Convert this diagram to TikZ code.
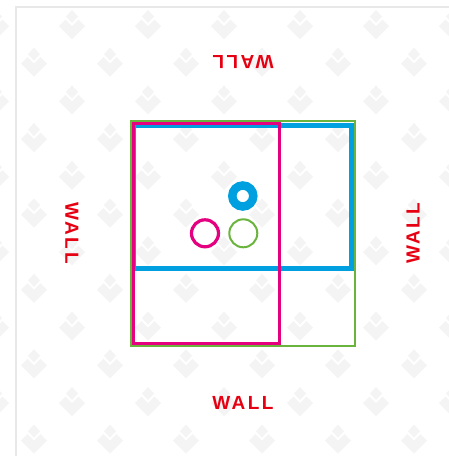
\documentclass[tikz,border=0pt]{standalone}
\usepackage{fontspec}
\newfontfamily\wallfont[LetterSpace=13]{Liberation Sans}
\usetikzlibrary{positioning}
\definecolor{PlanBlue}{RGB}{0,160,224}
\definecolor{PlanPink}{RGB}{228,0,127}
\definecolor{PlanGreen}{RGB}{106,180,62}
\definecolor{WallRed}{RGB}{230,0,18}
\definecolor{MarkGray}{RGB}{244,244,244}
\definecolor{FrameGray}{RGB}{232,232,232}
\tikzset{
    wall/.style={text=WallRed, inner sep=0pt, font=\wallfont\bfseries\fontsize{19}{21}\selectfont},
    logo/.pic={
        \fill [MarkGray] (0,-15) -- (6,-8.5) -- (0,-2) -- (-6,-8.5) -- cycle;
        \fill [MarkGray] (-13,1) -- (-6.5,-5.5) -- (0,1) -- (6.5,-5.5) -- (13,1) -- (0,14) -- cycle;
    }
}

\begin{document}
\begin{tikzpicture}[x=1pt, y=-1pt]
    \fill [white] (0,0) rectangle (449,456);
    \useasboundingbox (0,0) rectangle (449,456);
    % watermark
    \foreach \row in {0,...,11} {
        \pgfmathsetmacro{\rowy}{25+37.7*\row}
        \pgfmathsetmacro{\rowx}{isodd(\row) ? 34 : 72}
        \foreach \col in {-1,...,5} {
            \pic at (\rowx+76*\col, \rowy) {logo};
        }
    }
    \draw [FrameGray, line width=2pt] (16,456) -- (16,7) -- (449,7);

    % boxes
    \draw [PlanBlue, line width=5.2pt] (133,125.5) rectangle (351.3,268.5);
    \draw [PlanPink, line width=3pt] (133,123.3) rectangle (279,343.5);
    \draw [PlanGreen, line width=2.2pt] (131,121) rectangle (355.3,346);

    % markers
    \draw [PlanBlue, line width=8.5pt] (242.8,196) circle [radius=10.5];
    \draw [PlanPink, line width=3.2pt] (205,233.3) circle [radius=13.5];
    \draw [PlanGreen, line width=2pt] (243.3,233.3) circle [radius=14];

    % walls
    \node [wall, rotate=180] (wallN) at (243,62) {WALL};
    \node [wall] (wallS) at (243,403) {WALL};
    \node [wall, rotate=-90] (wallW) at (72,233) {WALL};
    \node [wall, rotate=90] (wallE) at (413,233) {WALL};
\end{tikzpicture}
\end{document}
